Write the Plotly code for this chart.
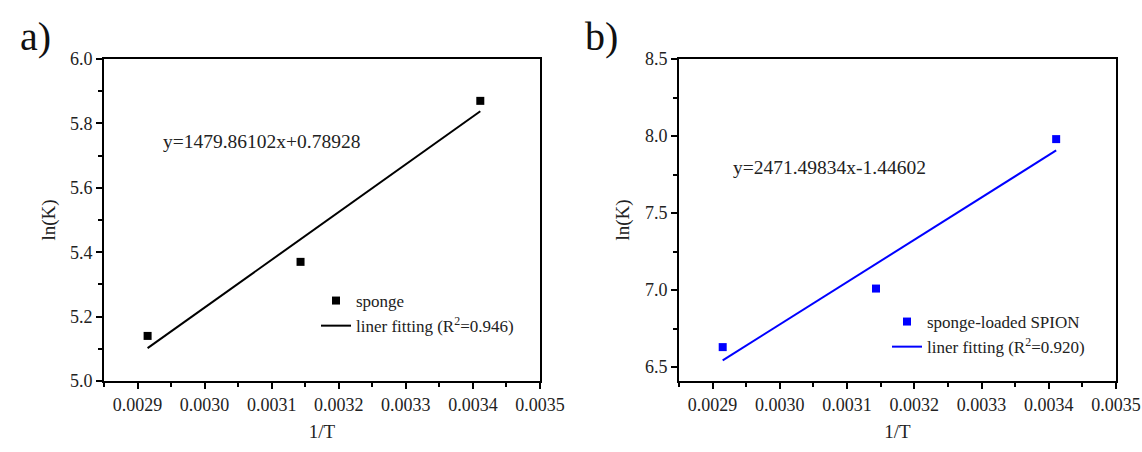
import numpy as np
import plotly.graph_objects as go

# ---- data ----
inv_T = [0.002915, 0.003143, 0.003411]
lnK_sponge = [5.14, 5.37, 5.87]
lnK_spion = [6.63, 7.01, 7.98]
eq_a = "y=1479.86102x+0.78928"
eq_b = "y=2471.49834x-1.44602"
name_a_pts = "sponge"
name_a_fit = "liner fitting (R<sup>2</sup>=0.946)"
name_b_pts = "sponge-loaded SPION"
name_b_fit = "liner fitting (R<sup>2</sup>=0.920)"
x_ticks = [0.0029, 0.0030, 0.0031, 0.0032, 0.0033, 0.0034, 0.0035]

FONT = "Times New Roman, Liberation Serif, serif"
W, H = 1142, 452

def fit(x, y):
    k, b = np.polyfit(x, y, 1)
    xs = np.array([x[0], x[-1]])
    return xs, k * xs + b

fig = go.Figure()

xa, ya = fit(inv_T, lnK_sponge)
xb, yb = fit(inv_T, lnK_spion)

fig.add_trace(go.Scatter(x=inv_T, y=lnK_sponge, mode="markers", name=name_a_pts,
                         marker=dict(symbol="square", size=8, color="black"),
                         xaxis="x", yaxis="y", legend="legend"))
fig.add_trace(go.Scatter(x=xa, y=ya, mode="lines", name=name_a_fit,
                         line=dict(color="black", width=2),
                         xaxis="x", yaxis="y", legend="legend"))
fig.add_trace(go.Scatter(x=inv_T, y=lnK_spion, mode="markers", name=name_b_pts,
                         marker=dict(symbol="square", size=8, color="#0000ff"),
                         xaxis="x2", yaxis="y2", legend="legend2"))
fig.add_trace(go.Scatter(x=xb, y=yb, mode="lines", name=name_b_fit,
                         line=dict(color="#0000ff", width=2),
                         xaxis="x2", yaxis="y2", legend="legend2"))

def px(v):
    return v / W

def py(v):
    return 1 - v / H

axis_common = dict(showline=True, linecolor="black", linewidth=2, mirror=True,
                   ticks="outside", ticklen=6, tickwidth=1.5, tickcolor="black",
                   showgrid=False, zeroline=False, automargin=False,
                   tickfont=dict(family=FONT, size=18, color="#222"))

xcommon = dict(axis_common, range=[0.00285, 0.0035], tickvals=x_ticks,
               tickformat=".4f",
               minor=dict(ticks="outside", ticklen=4, tickwidth=1.5, tickcolor="black",
                          dtick=0.00005, tick0=0.00285, showgrid=False),
               title=dict(text="1/T", font=dict(family=FONT, size=19, color="#222"), standoff=11))

fig.update_layout(
    width=W, height=H,
    margin=dict(l=0, r=0, t=0, b=0, autoexpand=False),
    paper_bgcolor="white", plot_bgcolor="white",
    showlegend=True,
    xaxis=dict(xcommon, domain=[px(104), px(540)], anchor="y"),
    yaxis=dict(axis_common, domain=[py(381), py(59)], anchor="x", range=[5.0, 6.0],
               dtick=0.2, tick0=5.0, tickformat=".1f",
               minor=dict(ticks="outside", ticklen=4, tickwidth=1.5, tickcolor="black",
                          dtick=0.1, tick0=5.0, showgrid=False),
               title=dict(text="ln(K)", font=dict(family=FONT, size=19, color="#222"), standoff=9)),
    xaxis2=dict(xcommon, domain=[px(679), px(1116)], anchor="y2"),
    yaxis2=dict(axis_common, domain=[py(381), py(59)], anchor="x2", range=[6.41, 8.5],
                dtick=0.5, tick0=6.5, tickformat=".1f",
                minor=dict(ticks="outside", ticklen=4, tickwidth=1.5, tickcolor="black",
                           dtick=0.25, tick0=6.5, showgrid=False),
                title=dict(text="ln(K)", font=dict(family=FONT, size=19, color="#222"), standoff=10)),
    legend=dict(x=px(316), y=py(283), xanchor="left", yanchor="top",
                bgcolor="rgba(0,0,0,0)", font=dict(family=FONT, size=17, color="#222"),
                tracegroupgap=0, itemwidth=30),
    legend2=dict(x=px(887), y=py(304), xanchor="left", yanchor="top",
                 bgcolor="rgba(0,0,0,0)", font=dict(family=FONT, size=17, color="#222"),
                 tracegroupgap=0, itemwidth=30),
    annotations=[
        dict(text=eq_a, x=px(161), y=py(142), xref="paper", yref="paper",
             xanchor="left", yanchor="middle", showarrow=False,
             font=dict(family=FONT, size=19.5, color="#222")),
        dict(text=eq_b, x=px(731), y=py(167), xref="paper", yref="paper",
             xanchor="left", yanchor="middle", showarrow=False,
             font=dict(family=FONT, size=19.5, color="#222")),
        dict(text="a)", x=px(18), y=py(36), xref="paper", yref="paper",
             xanchor="left", yanchor="middle", showarrow=False,
             font=dict(family=FONT, size=40, color="#111")),
        dict(text="b)", x=px(583), y=py(36), xref="paper", yref="paper",
             xanchor="left", yanchor="middle", showarrow=False,
             font=dict(family=FONT, size=40, color="#111")),
    ],
)

fig.write_html("out.html")
